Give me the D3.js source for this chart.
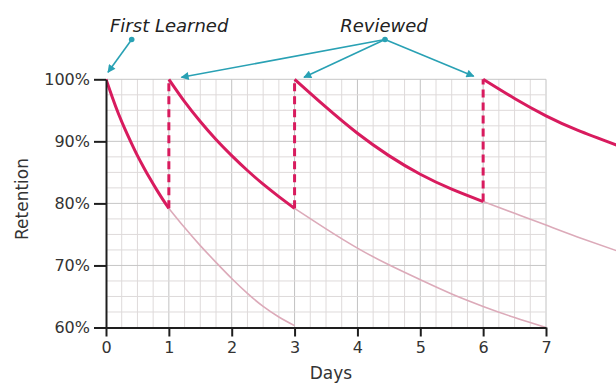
<!DOCTYPE html>
<html>
<head>
<meta charset="utf-8">
<script src="https://cdn.jsdelivr.net/npm/d3@7"></script>
<style>
  html, body { margin: 0; padding: 0; background: #fff; }
  svg { display: block; font-family: "DejaVu Sans", Verdana, sans-serif; }
</style>
</head>
<body>
<script>
// prettier-ignore
const dayTicks = [0, 1, 2, 3, 4, 5, 6, 7];
const pctTicks = [60, 70, 80, 90, 100];
const reviewDays = [1, 3, 6];

// [day, retention %]
// prettier-ignore
const learned = [[0, 100], [0.1, 97.1], [0.2, 94.4], [0.3, 92], [0.4, 89.8], [0.5, 87.7], [0.6, 85.8], [0.7, 84], [0.8, 82.3], [0.9, 80.7], [1, 79.2]];
// prettier-ignore
const learnedFade = [[1, 79.2], [1.25, 76.1], [1.5, 73.2], [1.75, 70.5], [2, 67.9], [2.25, 65.5], [2.5, 63.4], [2.75, 61.7], [3, 60.3]];
// prettier-ignore
const review1 = [[1, 100], [1.25, 96.4], [1.5, 93.2], [1.75, 90.3], [2, 87.7], [2.25, 85.3], [2.5, 83.1], [2.75, 81.1], [3, 79.2]];
// prettier-ignore
const review1Fade = [[3, 79.2], [3.5, 75.9], [4, 72.8], [4.5, 70.1], [5, 67.7], [5.5, 65.4], [6, 63.4], [6.5, 61.6], [7, 60]];
// prettier-ignore
const review2 = [[3, 100], [3.5, 95.5], [4, 91.3], [4.5, 87.7], [5, 84.7], [5.5, 82.3], [6, 80.3]];
// prettier-ignore
const review2Fade = [[6, 80.3], [6.5, 78.4], [7, 76.5], [7.5, 74.6], [8.2, 72.1]];
// prettier-ignore
const review3 = [[6, 100], [6.5, 96.9], [7, 94.1], [7.5, 91.8], [8.2, 89.1]];

const solidCurves = [learned, review1, review2, review3];
const fadeCurves = [learnedFade, review1Fade, review2Fade];

const width = 616;
const height = 383;
const pink = "#d81b5e";
const fadePink = "#dcaab9";
const teal = "#29a1b4";

const x = d3.scaleLinear().domain([0, 7]).range([106, 546]);
const y = d3.scaleLinear().domain([60, 100]).range([327.5, 79.3]);

const svg = d3
  .select("body")
  .append("svg")
  .attr("width", width)
  .attr("height", height);

svg
  .append("defs")
  .append("clipPath")
  .attr("id", "plot-clip")
  .append("rect")
  .attr("x", x(0))
  .attr("y", 0)
  .attr("width", width - x(0))
  .attr("height", y(60));

svg
  .select("defs")
  .append("marker")
  .attr("id", "arrow")
  .attr("viewBox", "0 0 10 10")
  .attr("refX", 9)
  .attr("refY", 5)
  .attr("markerWidth", 9)
  .attr("markerHeight", 8)
  .attr("markerUnits", "userSpaceOnUse")
  .attr("orient", "auto")
  .append("path")
  .attr("d", "M0,0 L10,5 L0,10 Z")
  .attr("fill", teal);

// grid
const grid = svg.append("g").attr("class", "grid");
const quarterDays = d3.range(1, 29).map((d) => d / 4);
const stepPcts = d3.range(0, 16).map((d) => 62.5 + d * 2.5);

grid
  .selectAll("line.v")
  .data(quarterDays)
  .join("line")
  .attr("class", "v")
  .attr("x1", (d) => x(d))
  .attr("x2", (d) => x(d))
  .attr("y1", y(100))
  .attr("y2", y(60))
  .attr("stroke", (d) => (d % 1 === 0 ? "#c2c2c2" : "#dedada"))
  .attr("stroke-width", 1);

grid
  .selectAll("line.h")
  .data(stepPcts)
  .join("line")
  .attr("class", "h")
  .attr("x1", x(0))
  .attr("x2", x(7))
  .attr("y1", (d) => y(d))
  .attr("y2", (d) => y(d))
  .attr("stroke", (d) => (d % 10 === 0 ? "#c6c6c6" : "#dedada"))
  .attr("stroke-width", 1);

// curves
const line = d3
  .line()
  .x((d) => x(d[0]))
  .y((d) => y(d[1]))
  .curve(d3.curveNatural);

const curves = svg.append("g").attr("clip-path", "url(#plot-clip)");

curves
  .selectAll("path.fade")
  .data(fadeCurves)
  .join("path")
  .attr("class", "fade")
  .attr("d", line)
  .attr("fill", "none")
  .attr("stroke", fadePink)
  .attr("stroke-width", 1.6);

curves
  .selectAll("line.jump")
  .data(reviewDays)
  .join("line")
  .attr("class", "jump")
  .attr("x1", (d) => x(d))
  .attr("x2", (d) => x(d))
  .attr("y1", (d, i) => y(solidCurves[i][solidCurves[i].length - 1][1]))
  .attr("y2", y(100))
  .attr("stroke", pink)
  .attr("stroke-width", 3)
  .attr("stroke-dasharray", "8,5");

curves
  .selectAll("path.solid")
  .data(solidCurves)
  .join("path")
  .attr("class", "solid")
  .attr("d", line)
  .attr("fill", "none")
  .attr("stroke", pink)
  .attr("stroke-width", 3)
  .attr("stroke-linejoin", "round");

// axes
const xAxis = d3
  .axisBottom(x)
  .tickValues(dayTicks)
  .tickSize(9)
  .tickSizeOuter(0)
  .tickPadding(5)
  .tickFormat(d3.format("d"));
const yAxis = d3
  .axisLeft(y)
  .tickValues(pctTicks)
  .tickSize(12)
  .tickSizeOuter(0)
  .tickPadding(4)
  .tickFormat((d) => `${d}%`);

const gx = svg.append("g").attr("transform", `translate(0,${y(60)})`).call(xAxis);
const gy = svg.append("g").attr("transform", `translate(${x(0)},0)`).call(yAxis);

[gx, gy].forEach((g) => {
  g.selectAll("path.domain").attr("stroke", "#1e1e1e").attr("stroke-width", 2);
  g.selectAll(".tick line").attr("stroke", "#1e1e1e").attr("stroke-width", 2);
  g.selectAll(".tick text")
    .attr("fill", "#333")
    .style("font-size", "16px")
    .style("font-family", '"DejaVu Sans", Verdana, sans-serif');
});

svg
  .append("text")
  .attr("x", 331)
  .attr("y", 379)
  .attr("text-anchor", "middle")
  .attr("fill", "#333")
  .style("font-size", "17px")
  .text("Days");

svg
  .append("text")
  .attr("transform", "translate(28,199) rotate(-90)")
  .attr("text-anchor", "middle")
  .attr("fill", "#333")
  .style("font-size", "17px")
  .text("Retention");

// annotations
const notes = svg.append("g").attr("class", "notes");

notes
  .append("text")
  .attr("x", 110)
  .attr("y", 32)
  .attr("fill", "#222")
  .style("font-size", "18px")
  .style("font-style", "italic")
  .text("First Learned");

notes
  .append("text")
  .attr("x", 384)
  .attr("y", 32)
  .attr("text-anchor", "middle")
  .attr("fill", "#222")
  .style("font-size", "18px")
  .style("font-style", "italic")
  .text("Reviewed");

const arrows = [
  { from: [131.7, 39.5], to: [x(0) + 2, y(100) - 7] },
  { from: [385, 39.5], to: [x(1.2), y(100) - 2] },
  { from: [385, 39.5], to: [x(3.15), y(100) - 2] },
  { from: [385, 39.5], to: [x(5.85), y(100) - 3] },
];

notes
  .selectAll("line.arrow")
  .data(arrows)
  .join("line")
  .attr("class", "arrow")
  .attr("x1", (d) => d.from[0])
  .attr("y1", (d) => d.from[1])
  .attr("x2", (d) => d.to[0])
  .attr("y2", (d) => d.to[1])
  .attr("stroke", teal)
  .attr("stroke-width", 1.6)
  .attr("marker-end", "url(#arrow)");

notes
  .selectAll("circle")
  .data([arrows[0].from, arrows[1].from])
  .join("circle")
  .attr("cx", (d) => d[0])
  .attr("cy", (d) => d[1])
  .attr("r", 2.8)
  .attr("fill", teal);
</script>
</body>
</html>
